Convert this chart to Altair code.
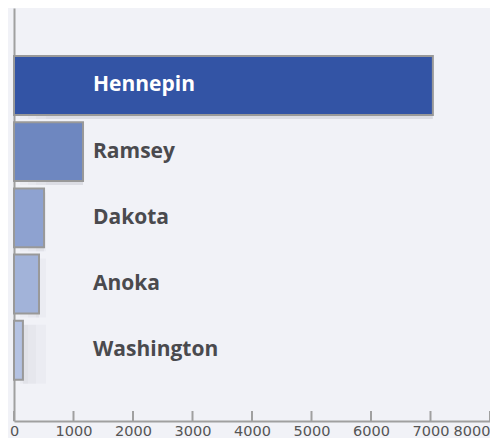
import altair as alt
import pandas as pd

counties = ["Hennepin", "Ramsey", "Dakota", "Anoka", "Washington"]
values = [7040, 1160, 505, 420, 150]
colors = ["#3354a5", "#6e87c0", "#8ea2d0", "#a2b3d9", "#b4c2e2"]
label_colors = ["#ffffff", "#4a4a4e", "#4a4a4e", "#4a4a4e", "#4a4a4e"]
tick_values = [0, 1000, 2000, 3000, 4000, 5000, 6000, 7000, 8000]

df = pd.DataFrame({"county": counties, "value": values, "color": colors, "lc": label_colors})
ticks = pd.DataFrame({"t": tick_values})

PLOT_H = 413
xs = alt.Scale(domain=[0, 8000], nice=False)
ys = alt.Scale(domain=counties, paddingInner=0.11, paddingOuter=0.674, align=0.5375)

base = alt.Chart(df)

shadow_layers = []
for off in [6, 14, 22, 32]:
    shadow_layers.append(
        base.mark_bar(color="#8a8fa0", opacity=0.05, x2Offset=off, yOffset=4, y2Offset=10).encode(
            x=alt.X("value:Q", scale=xs),
            x2=alt.X2(datum=0),
            y=alt.Y("county:N", scale=ys),
        )
    )

bars = base.mark_bar(stroke="#999999", strokeWidth=2).encode(
    x=alt.X("value:Q", scale=xs,
            axis=alt.Axis(values=tick_values, title=None, grid=False, ticks=False,
                          domainColor="#a0a0a0", domainWidth=2, labelColor="#555555",
                          labelFontSize=14.5, labelFont="DejaVu Sans", labelPadding=3,
                          labelFlush=False, labelOverlap=False, format="d",
                          labelAlign={"condition": {"test": "datum.value == 8000", "value": "right"},
                                      "value": "center"})),
    y=alt.Y("county:N", scale=ys,
            axis=alt.Axis(title=None, labels=False, ticks=False, domainColor="#a0a0a0",
                          domainWidth=2)),
    color=alt.Color("color:N", scale=None),
)

labels = base.mark_text(align="left", baseline="middle", fontSize=21, fontWeight="bold",
                        font="Open Sans").encode(
    x=alt.value(79),
    y=alt.Y("county:N", scale=ys),
    text="county:N",
    color=alt.Color("lc:N", scale=None),
)

tick_marks = alt.Chart(ticks).mark_rule(color="#a0a0a0", strokeWidth=2).encode(
    x=alt.X("t:Q", scale=xs),
    y=alt.value(PLOT_H - 10),
    y2=alt.value(PLOT_H),
)

chart = alt.layer(*shadow_layers, bars, labels, tick_marks).properties(
    width=476, height=PLOT_H,
    background="#f1f2f7",
    padding={"left": 6, "right": 0, "top": 0, "bottom": 17},
    autosize=alt.AutoSizeParams(type="none"),
).configure_view(stroke=None)

chart.save("out.html", embed_options={"renderer": "svg", "actions": False})
